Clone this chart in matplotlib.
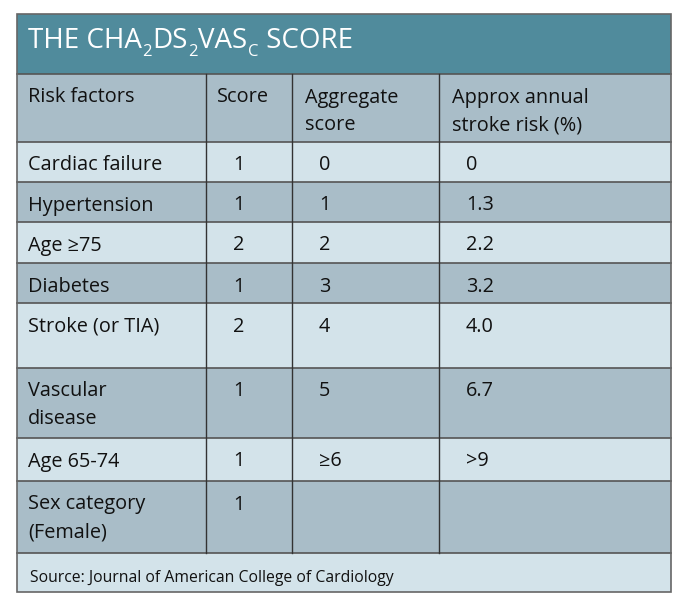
import matplotlib
matplotlib.use("Agg")
import matplotlib.pyplot as plt
from matplotlib.patches import Rectangle

# ---- data ----
title_main = ["THE CHA", "DS", "VAS", " SCORE"]
title_subs = ["2", "2", "C", ""]
headers = ["Risk factors", "Score", "Aggregate\nscore", "Approx annual\nstroke risk (%)"]
risk_factors = ["Cardiac failure", "Hypertension", "Age \u226575", "Diabetes",
                "Stroke (or TIA)", "Vascular\ndisease", "Age 65-74", "Sex category\n(Female)"]
scores = ["1", "1", "2", "1", "2", "1", "1", "1"]
aggregate = ["0", "1", "2", "3", "4", "5", "\u22656", ""]
annual_risk = ["0", "1.3", "2.2", "3.2", "4.0", "6.7", ">9", ""]
source = "Source: Journal of American College of Cardiology"

# ---- layout ----
W, H = 680, 602
L, R = 17, 671
col_x = [17, 206, 292, 439, 671]
y_title = (14, 74)
y_header = (74, 142)
row_edges = [142, 182, 222, 263, 303, 368, 438, 481, 553]
y_source = (553, 592)

C_TITLE = "#508b9c"
C_DARK = "#a9bdc8"
C_LIGHT = "#d3e3ea"
C_LINE = "#555555"
FONT = "Open Sans"
FS = 14.3
BASE = 28.5
LINE_H = 28

fig = plt.figure(figsize=(W / 100, H / 100), dpi=100)
ax = fig.add_axes([0, 0, 1, 1])
ax.set_xlim(0, W)
ax.set_ylim(H, 0)
ax.axis("off")

def rect(y0, y1, color):
    ax.add_patch(Rectangle((L, y0), R - L, y1 - y0, facecolor=color, edgecolor="none", zorder=1))

rect(*y_title, C_TITLE)
rect(*y_header, C_DARK)
for i in range(len(risk_factors)):
    rect(row_edges[i], row_edges[i + 1], C_LIGHT if i % 2 == 0 else C_DARK)
rect(*y_source, C_LIGHT)

# lines
hl = [y_header[0], y_header[1]] + row_edges[1:]
for y in hl:
    ax.plot([L, R], [y, y], color=C_LINE, lw=1.2, zorder=3)
for x in col_x[1:-1]:
    ax.plot([x, x], [y_header[0], row_edges[-1]], color="#333333", lw=1.0, zorder=3)
ax.add_patch(Rectangle((L, y_title[0]), R - L, y_source[1] - y_title[0], facecolor="none",
                       edgecolor="#666666", lw=1.2, zorder=4))

# title with subscripts
fig.canvas.draw()
renderer = fig.canvas.get_renderer()
x = 28
ty = 48
for main, sub in zip(title_main, title_subs):
    t = ax.text(x, ty, main, color="white", fontsize=20, family=FONT, va="baseline", ha="left", zorder=5)
    x += t.get_window_extent(renderer).width + 0.5
    if sub:
        s = ax.text(x, ty + 8, sub, color="white", fontsize=12, family=FONT, va="baseline",
                    ha="left", zorder=5)
        x += s.get_window_extent(renderer).width + 0.5

def cell_text(x0, top, txt):
    for k, line in enumerate(txt.split("\n")):
        ax.text(x0, top + BASE + k * LINE_H, line, fontsize=FS, family=FONT, va="baseline",
                ha="left", color="#111111", zorder=5)

# header
hdr_x = [28, 217, 305, 452]
for hx, h in zip(hdr_x, headers):
    cell_text(hx, y_header[0], h)

val_x = [28, 233, 319, 466]
for i in range(len(risk_factors)):
    for vx, v in zip(val_x, [risk_factors[i], scores[i], aggregate[i], annual_risk[i]]):
        if v:
            cell_text(vx, row_edges[i], v)

ax.text(30, (y_source[0] + y_source[1]) / 2 + 5, source, fontsize=11.3, family=FONT,
        va="center", ha="left", color="#111111", zorder=5)

fig.savefig("out.png", dpi=100)
